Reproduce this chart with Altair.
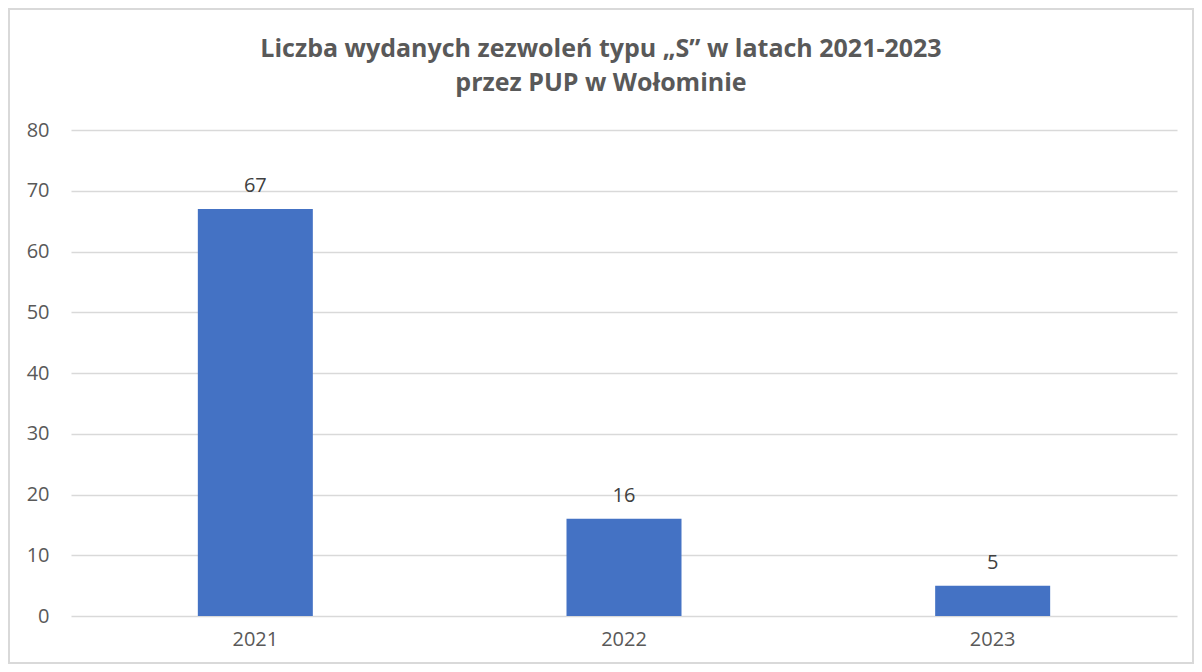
import altair as alt
import pandas as pd

years = ["2021", "2022", "2023"]
counts = [67, 16, 5]
title_lines = ["Liczba wydanych zezwoleń typu „S” w latach 2021-2023", "przez PUP w Wołominie"]

df = pd.DataFrame({"rok": years, "liczba": counts})

FONT = "Open Sans"
GREY = "#595959"

base = alt.Chart(df)

x = alt.X("rok:N", title=None, sort=years,
          scale=alt.Scale(paddingInner=0, paddingOuter=0),
          axis=alt.Axis(labelAngle=0, labelFont=FONT, labelFontSize=20, labelColor=GREY,
                        ticks=False, domain=False, labelPadding=13))
y = alt.Y("liczba:Q", title=None,
          scale=alt.Scale(domain=[0, 80]),
          axis=alt.Axis(values=list(range(0, 81, 10)), labelFont=FONT, labelFontSize=20,
                        labelColor=GREY, ticks=False, domain=False, labelPadding=22,
                        gridColor="#D9D9D9", gridWidth=1.3))

bars = base.mark_bar(color="#4472C4", size=115).encode(x=x, y=y)
labels = base.mark_text(font=FONT, fontSize=20, color="#404040", baseline="alphabetic", dy=-17).encode(
    x=x, y=y, text="liczba:Q")

frame = alt.Chart(df.head(1)).mark_rect(fill=None, stroke="#D9D9D9", strokeWidth=2).encode(
    x=alt.value(-62), x2=alt.value(1122), y=alt.value(-121), y2=alt.value(533))

chart = alt.layer(bars, labels, frame).properties(
    width=1106, height=486,
    title=alt.TitleParams(title_lines, font=FONT, fontSize=25, fontWeight="bold", color=GREY,
                          anchor="middle", dx=-23, offset=-88, lineHeight=34),
    autosize=alt.AutoSizeParams(type="none"),
    padding={"left": 63, "top": 122, "right": 17, "bottom": 48},
).configure_view(stroke=None)

chart.save("out.html", embed_options={"renderer": "svg", "actions": False})
